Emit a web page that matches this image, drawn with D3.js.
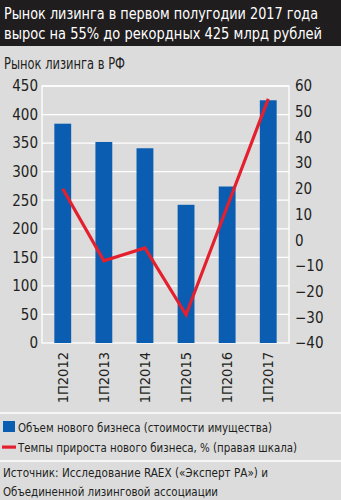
<!DOCTYPE html>
<html>
<head>
<meta charset="utf-8">
<script src="https://cdn.jsdelivr.net/npm/d3@7"></script>
<style>
  html, body { margin: 0; padding: 0; background: #dcdcdd; }
  svg { display: block; }
  text { font-family: "Liberation Sans Narrow", "DejaVu Sans Condensed", "Roboto Condensed", sans-serif; }
</style>
</head>
<body>
<svg id="chart" width="341" height="500"></svg>
<script>
// Half-year leasing market data
const periods = ["1П2012", "1П2013", "1П2014", "1П2015", "1П2016", "1П2017"];
const volume = [384, 352, 341, 242, 274, 425];          // млрд руб.
const growth = [20, -8, -3, -29, 13, 55];                // %, правая шкала
const leftTicks = [0, 50, 100, 150, 200, 250, 300, 350, 400, 450];
const rightTicks = [-40, -30, -20, -10, 0, 10, 20, 30, 40, 50, 60];

const titleLines = ["Рынок лизинга в первом полугодии 2017 года",
                    "вырос на 55% до рекордных 425 млрд рублей"];
const subtitle = "Рынок лизинга в РФ";
const legendItems = ["Объем нового бизнеса (стоимости имущества)",
                     "Темпы прироста нового бизнеса, % (правая шкала)"];
const sourceLines = ["Источник: Исследование RAEX («Эксперт РА») и",
                     "Объединенной лизинговой  ассоциации"];

const W = 341, H = 500;
const blue = "#0a5db0", red = "#e4202e", bg = "#dcdcdd", ink = "#231f20";
const svg = d3.select("#chart");

svg.append("rect").attr("width", W).attr("height", H).attr("fill", bg);

// Fit a text row to a given width without spilling
function fitted(sel, widths) {
  sel.attr("textLength", (d, i) => widths[i]).attr("lengthAdjust", "spacingAndGlyphs");
}

// Title band
svg.append("rect").attr("width", W).attr("height", 46).attr("fill", "#201d1e");
svg.append("g").selectAll("text").data(titleLines).join("text")
  .attr("x", 4).attr("y", (d, i) => 19 + i * 20)
  .attr("fill", "#fff").attr("font-size", 15)
  .text(d => d)
  .call(fitted, [314, 318]);

svg.append("text").attr("x", 4).attr("y", 69).attr("font-size", 15)
  .attr("fill", ink).text(subtitle)
  .call(fitted, [121]);

// Plot area
const plot = { left: 42, right: 289, top: 86, bottom: 343 };

const x = d3.scaleBand().domain(periods).range([plot.left, plot.right]).paddingInner(0.59).paddingOuter(0.3);
const yL = d3.scaleLinear().domain([0, 450]).range([plot.bottom, plot.top]);
const yR = d3.scaleLinear().domain([-40, 60]).range([plot.bottom, plot.top]);

// Gridlines
svg.append("g").selectAll("line").data(leftTicks.slice(1)).join("line")
  .attr("x1", plot.left).attr("x2", plot.right)
  .attr("y1", d => yL(d)).attr("y2", d => yL(d))
  .attr("stroke", "#fff").attr("stroke-width", 1.3);
svg.append("rect")
  .attr("x", plot.left).attr("y", plot.top)
  .attr("width", plot.right - plot.left).attr("height", plot.bottom - plot.top)
  .attr("fill", "none").attr("stroke", "#fff").attr("stroke-width", 1.3);

// Left axis
const axL = svg.append("g").attr("transform", `translate(${plot.left - 4},0)`)
  .call(d3.axisLeft(yL).tickValues(leftTicks).tickSize(0).tickPadding(0));
axL.select(".domain").remove();
axL.selectAll("text").attr("font-size", 15).attr("fill", ink).attr("font-family", null);

// Right axis
const axR = svg.append("g").attr("transform", `translate(${plot.right + 6},0)`)
  .call(d3.axisRight(yR).tickValues(rightTicks).tickSize(0).tickPadding(0));
axR.select(".domain").remove();
axR.selectAll("text").attr("font-size", 15).attr("fill", ink).attr("font-family", null);

// Bars
svg.append("g").selectAll("rect").data(volume).join("rect")
  .attr("x", (d, i) => x(periods[i]))
  .attr("width", x.bandwidth())
  .attr("y", d => yL(d))
  .attr("height", d => yL(0) - yL(d))
  .attr("fill", blue);

// Growth line
const line = d3.line()
  .x((d, i) => x(periods[i]) + x.bandwidth() / 2)
  .y(d => yR(d));
svg.append("path").datum(growth).attr("d", line)
  .attr("fill", "none").attr("stroke", red).attr("stroke-width", 3.2)
  .attr("stroke-linejoin", "miter");

// Category labels (vertical)
svg.append("g").selectAll("text").data(periods).join("text")
  .attr("transform", d => `translate(${x(d) + x.bandwidth() / 2 + 5},352) rotate(-90)`)
  .attr("text-anchor", "end").attr("font-size", 14.5).attr("fill", ink)
  .text(d => d);

// Separators
[413, 461].forEach(yy => svg.append("line")
  .attr("x1", 0).attr("x2", W).attr("y1", yy).attr("y2", yy)
  .attr("stroke", "#fff").attr("stroke-width", 1.5));

// Legend
svg.append("rect").attr("x", 3).attr("y", 421).attr("width", 12).attr("height", 11).attr("fill", blue);
svg.append("rect").attr("x", 2).attr("y", 445.5).attr("width", 14).attr("height", 3.2).attr("fill", red);
svg.append("g").selectAll("text").data(legendItems).join("text")
  .attr("x", 18).attr("y", (d, i) => 432 + i * 20)
  .attr("font-size", 13).attr("fill", ink)
  .text(d => d)
  .call(fitted, [254, 279]);

// Source
svg.append("g").selectAll("text").data(sourceLines).join("text")
  .attr("x", 3).attr("y", (d, i) => 477 + i * 19)
  .attr("font-size", 13).attr("fill", ink)
  .text(d => d)
  .call(fitted, [265, 215]);
</script>
</body>
</html>
